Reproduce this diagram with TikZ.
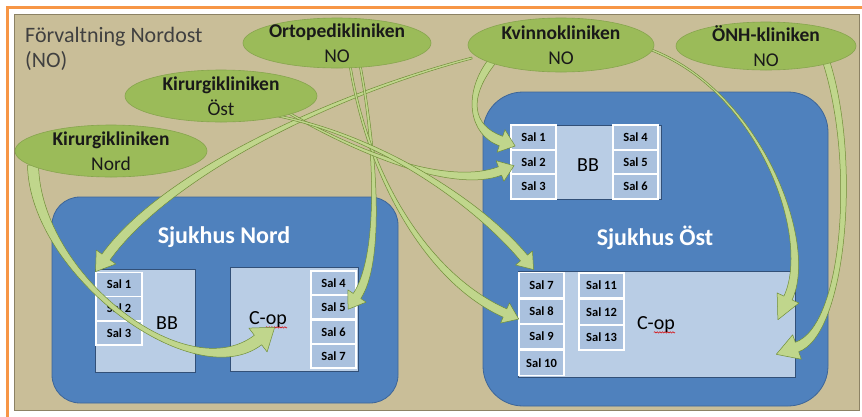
\documentclass[tikz,border=0pt]{standalone}
\usepackage{fontspec}
\setmainfont{Carlito}
\usetikzlibrary{calc,shapes.geometric,decorations.pathmorphing}

\definecolor{bgtan}{RGB}{201,190,152}
\definecolor{tanline}{RGB}{140,130,100}
\definecolor{frameorange}{RGB}{247,150,70}
\definecolor{hospblue}{RGB}{79,129,189}
\definecolor{hospline}{RGB}{62,102,152}
\definecolor{boxblue}{RGB}{185,205,229}
\definecolor{salblue}{RGB}{170,193,222}
\definecolor{boxline}{RGB}{50,80,120}
\definecolor{clinicgreen}{RGB}{155,187,89}
\definecolor{clinicline}{RGB}{135,165,78}
\definecolor{arrowfill}{RGB}{192,214,140}
\definecolor{arrowline}{RGB}{112,142,56}
\definecolor{titlegray}{RGB}{64,64,64}

\tikzset{
  hosp/.style={rectangle, fill=hospblue, draw=hospline, line width=0.8pt, inner sep=0pt},
  unitbox/.style={rectangle, fill=boxblue, draw=boxline, line width=0.8pt, inner sep=0pt},
  salcell/.style={rectangle, fill=salblue, draw=white, line width=1.6pt, minimum width=45pt,
    minimum height=24pt, inner sep=0pt, font=\fontsize{12.5}{14}\selectfont\bfseries},
  clinic/.style={ellipse, fill=clinicgreen, draw=clinicline, line width=0.6pt, inner sep=0pt},
  clinictext/.style={align=center, inner sep=0pt, font=\fontsize{19.5}{25}\selectfont, text=black!90},
  hosplabel/.style={text=white, inner sep=0pt, font=\fontsize{24}{28}\selectfont\bfseries},
  unitlabel/.style={inner sep=0pt, font=\fontsize{20}{24}\selectfont},
  titletext/.style={inner sep=0pt, anchor=base west, text=titlegray, font=\fontsize{22}{25}\selectfont},
  arrowstyle/.style={fill=arrowfill, draw=arrowline, line width=0.5pt, line join=round},
  squiggle/.style={draw=red!85!black, line width=0.5pt, decorate,
    decoration={snake, amplitude=0.7pt, segment length=2.6pt}}
}

% tapered curved arrow: start, control1, control2, head base, half width start, half width end, head length, head half width
\newcommand{\taperarrow}[8]{%
  \path[arrowstyle]
    ($(#1)!#5!90:(#2)$) .. controls ($(#2)!#5!-90:(#1)$) and ($(#3)!#6!90:(#4)$) .. ($(#4)!#6!-90:(#3)$)
    -- ($(#4)!#8!-90:(#3)$) -- ($(#4)!-#7!(#3)$) -- ($(#4)!#8!90:(#3)$)
    -- ($(#4)!#6!90:(#3)$) .. controls ($(#3)!#6!-90:(#4)$) and ($(#2)!#5!90:(#1)$) .. ($(#1)!#5!-90:(#2)$)
    -- cycle;
}

\begin{document}
\begin{tikzpicture}[x=1pt,y=-1pt]
\path[use as bounding box] (0,0) rectangle (862,416);
\clip (0,0) rectangle (862,416);
\fill[white] (0,0) rectangle (862,416);
\draw[frameorange, line width=3pt] (7.5,420) -- (7.5,7.5) -- (870,7.5);
\node[fill=bgtan, draw=tanline, line width=0.8pt, minimum width=845pt, minimum height=396pt, inner sep=0pt] (area) at (436.5,212) {};

\node[titletext] (title1) at (25,42) {Förvaltning Nordost};
\node[titletext] (title2) at (25,67) {(NO)};

% hospitals
\node[hosp, rounded corners=28pt, minimum width=346pt, minimum height=206pt] (snord) at (225,300) {};
\node[hosp, rounded corners=40pt, minimum width=345pt, minimum height=314pt] (sost) at (655.5,249) {};
\node[hosplabel] (snordlbl) at (224,237) {Sjukhus Nord};
\node[hosplabel] (sostlbl) at (655,238) {Sjukhus Öst};

% Sjukhus Nord units
\node[unitbox, minimum width=100pt, minimum height=103pt] (nbb) at (145,320.5) {};
\node[salcell, minimum width=46pt] (nb1) at (119,284.5) {Sal 1};
\node[salcell, minimum width=46pt] (nb2) at (119,308.5) {Sal 2};
\node[salcell, minimum width=46pt] (nb3) at (119,333) {Sal 3};
\node[unitlabel] (nbblbl) at (167,323) {BB};

\node[unitbox, minimum width=128pt, minimum height=104pt] (ncop) at (294,319) {};
\node[salcell] (nc4) at (333.5,283) {Sal 4};
\node[salcell] (nc5) at (333.5,307) {Sal 5};
\node[salcell] (nc6) at (333.5,332) {Sal 6};
\node[salcell] (nc7) at (333.5,356) {Sal 7};
\node[unitlabel] (ncoplbl) at (268,320) {C-op};
\draw[squiggle] ($(ncoplbl.base west)+(17,2.5)$) -- ($(ncoplbl.base east)+(0,2.5)$);

% Sjukhus Öst units
\node[unitbox, minimum width=151pt, minimum height=74pt] (obb) at (585.5,162) {};
\node[salcell, minimum height=24.5pt] (ob1) at (533.5,137.5) {Sal 1};
\node[salcell, minimum height=24.5pt] (ob2) at (533.5,162) {Sal 2};
\node[salcell, minimum height=24.5pt] (ob3) at (533.5,186.5) {Sal 3};
\node[salcell, minimum height=24.5pt] (ob4) at (635.5,137.5) {Sal 4};
\node[salcell, minimum height=24.5pt] (ob5) at (635.5,162) {Sal 5};
\node[salcell, minimum height=24.5pt] (ob6) at (635.5,186.5) {Sal 6};
\node[unitlabel] (obblbl) at (588,165) {BB};

\node[unitbox, minimum width=277pt, minimum height=106pt] (ocop) at (656.5,324) {};
\node[salcell, minimum height=25pt] (oc7) at (541.5,285) {Sal 7};
\node[salcell, minimum height=25pt] (oc8) at (541.5,311.5) {Sal 8};
\node[salcell, minimum height=25pt] (oc9) at (541.5,336.5) {Sal 9};
\node[salcell, minimum height=25pt] (oc10) at (541.5,363) {Sal 10};
\node[salcell, minimum height=25pt] (oc11) at (601.5,285.5) {Sal 11};
\node[salcell, minimum height=25pt] (oc12) at (601.5,312) {Sal 12};
\node[salcell, minimum height=25pt] (oc13) at (601.5,337.5) {Sal 13};
\node[unitlabel] (ocoplbl) at (656,325) {C-op};
\draw[squiggle] ($(ocoplbl.base west)+(17,2.5)$) -- ($(ocoplbl.base east)+(0,2.5)$);

% clinic positions (shapes drawn later, on top of arrow starts)
\coordinate (orto) at (337,43);
\coordinate (kvinno) at (561,45);
\coordinate (onh) at (766,46);
\coordinate (kirost) at (221,96);
\coordinate (kirnord) at (111,151);

% arrows
\coordinate (a0) at ($(kirnord)+(-78,14)$);
\coordinate (a1) at (35,275);
\coordinate (a2) at (190,392);
\coordinate (a3) at ($(ncop.center)+(-36,21)$);
\taperarrow{a0}{a1}{a2}{a3}{5.5pt}{6pt}{21pt}{15pt}

\coordinate (b0) at ($(kvinno)+(-89,13)$);
\coordinate (b1) at (330,95);
\coordinate (b2) at (165,175);
\coordinate (b3) at ($(nb1.center)+(-13,-27.5)$);
\taperarrow{b0}{b1}{b2}{b3}{1pt}{5pt}{18pt}{12pt}

\coordinate (c0) at ($(orto)+(23,22)$);
\coordinate (c1) at (378,160);
\coordinate (c2) at (380,262);
\coordinate (c3) at ($(nc5.center)+(23.5,-11)$);
\taperarrow{c0}{c1}{c2}{c3}{1pt}{4.5pt}{16pt}{11pt}

\coordinate (d0) at ($(orto)+(13,22)$);
\coordinate (d1) at (368,180);
\coordinate (d2) at (430,280);
\coordinate (d3) at ($(oc8.center)+(-36.5,1.5)$);
\taperarrow{d0}{d1}{d2}{d3}{1pt}{4.5pt}{15pt}{11pt}

\coordinate (e0) at ($(kirost)+(66,16)$);
\coordinate (e1) at (370,160);
\coordinate (e2) at (455,188);
\coordinate (e3) at ($(ob2.center)+(-33.5,9)$);
\taperarrow{e0}{e1}{e2}{e3}{1pt}{4.5pt}{15pt}{11pt}

\coordinate (f0) at ($(kirost)+(52,19)$);
\coordinate (f1) at (380,135);
\coordinate (f2) at (480,205);
\coordinate (f3) at ($(oc7.center)+(-17.5,-27)$);
\taperarrow{f0}{f1}{f2}{f3}{1pt}{4.5pt}{15pt}{11pt}

\coordinate (g0) at ($(kvinno)+(-68,15)$);
\coordinate (g1) at (465,95);
\coordinate (g2) at (470,130);
\coordinate (g3) at ($(ob1.center)+(-32.5,3.5)$);
\taperarrow{g0}{g1}{g2}{g3}{4pt}{5pt}{15pt}{12pt}

\coordinate (h0) at ($(kvinno)+(88,4)$);
\coordinate (h1) at (760,90);
\coordinate (h2) at (815,240);
\coordinate (h3) at ($(ocop.center)+(131.5,-26)$);
\taperarrow{h0}{h1}{h2}{h3}{1pt}{4.5pt}{24pt}{12pt}

\coordinate (i0) at ($(onh)+(60,15)$);
\coordinate (i1) at (858,160);
\coordinate (i2) at (845,330);
\coordinate (i3) at ($(ocop.center)+(140.5,23)$);
\taperarrow{i0}{i1}{i2}{i3}{3.5pt}{5pt}{22pt}{13pt}

% clinics
\node[clinic, minimum width=188pt, minimum height=50pt] (ortoN) at (orto) {};
\node[clinictext] at (ortoN) {\textbf{Ortopedikliniken}\\NO};
\node[clinic, minimum width=186pt, minimum height=54pt] (kvinnoN) at (kvinno) {};
\node[clinictext] at (kvinnoN) {\textbf{Kvinnokliniken}\\NO};
\node[clinic, minimum width=180pt, minimum height=48pt] (onhN) at (onh) {};
\node[clinictext] at (onhN) {\textbf{ÖNH-kliniken}\\NO};
\node[clinic, minimum width=192pt, minimum height=52pt] (kirostN) at (kirost) {};
\node[clinictext] at (kirostN) {\textbf{Kirurgikliniken}\\Öst};
\node[clinic, minimum width=192pt, minimum height=52pt] (kirnordN) at (kirnord) {};
\node[clinictext] at (kirnordN) {\textbf{Kirurgikliniken}\\Nord};
\end{tikzpicture}
\end{document}
